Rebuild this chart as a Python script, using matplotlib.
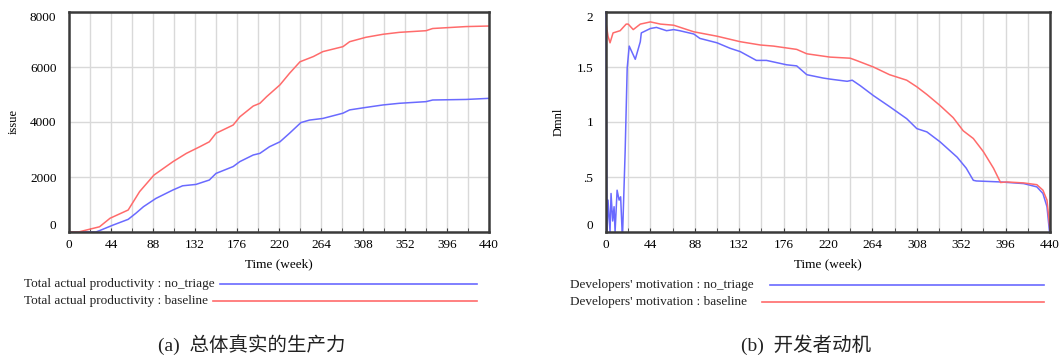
import numpy as np
import matplotlib
matplotlib.use("Agg")
import matplotlib.pyplot as plt
from matplotlib.lines import Line2D

# ---- data: (a) Total actual productivity ----
t_prod_base = [0, 10, 18, 32, 43, 62, 74, 89, 109, 123, 137, 147, 154, 172, 179, 193, 200, 207, 221, 231,
               242, 256, 266, 287, 294, 311, 329, 346, 374, 381, 416, 440]
prod_base = [0, 0, 70, 190, 500, 800, 1470, 2070, 2560, 2860, 3100, 3280, 3590, 3890, 4190, 4580, 4680, 4920,
             5350, 5770, 6190, 6380, 6560, 6740, 6920, 7080, 7190, 7260, 7320, 7400, 7470, 7490]
t_prod_notri = [0, 20, 28, 32, 46, 62, 70, 78, 91, 109, 119, 133, 147, 154, 172, 179, 193, 200, 210, 221, 231,
                243, 252, 266, 287, 294, 311, 329, 346, 374, 381, 416, 440]
prod_notri = [0, 0, 0, 50, 250, 460, 680, 920, 1220, 1530, 1680, 1730, 1890, 2130, 2380, 2560, 2800, 2860, 3100,
              3280, 3590, 3980, 4070, 4130, 4320, 4440, 4530, 4620, 4680, 4740, 4800, 4820, 4860]

# ---- data: (b) Developers' motivation ----
t_mot_base = [0, 2, 4, 7, 14, 20, 22, 27, 34, 44, 54, 67, 87, 110, 133, 153, 166, 189, 199, 222, 242, 248,
              265, 281, 298, 308, 318, 331, 344, 354, 364, 374, 384, 391, 397, 414, 427, 433, 437, 440]
mot_base = [1.9, 1.78, 1.72, 1.81, 1.83, 1.89, 1.89, 1.84, 1.89, 1.91, 1.89, 1.88, 1.82, 1.78, 1.73, 1.70,
            1.69, 1.66, 1.62, 1.59, 1.58, 1.56, 1.50, 1.43, 1.38, 1.32, 1.25, 1.15, 1.04, 0.92, 0.85, 0.73,
            0.58, 0.45, 0.455, 0.446, 0.43, 0.38, 0.29, 0.02]
t_mot_notri = [0, 1, 2, 4, 5, 6.6, 8, 9, 11, 13, 14.5, 16, 16.5, 19, 21, 23, 29, 34, 35, 44, 50, 60, 67, 73,
               87, 93, 110, 123, 133, 149, 159, 179, 189, 199, 215, 222, 239, 244, 252, 265, 281, 298, 308,
               318, 331, 348, 357, 364, 367, 391, 414, 427, 433, 437, 439.5, 440]
mot_notri = [2.0, 0.0, 0.29, 0.0, 0.35, 0.1, 0.23, 0.0, 0.38, 0.29, 0.32, 0.0, 0.0, 0.74, 1.49, 1.69, 1.57,
             1.73, 1.81, 1.85, 1.86, 1.83, 1.84, 1.83, 1.80, 1.76, 1.72, 1.67, 1.64, 1.56, 1.56, 1.52, 1.51,
             1.43, 1.40, 1.39, 1.37, 1.38, 1.33, 1.24, 1.14, 1.03, 0.94, 0.91, 0.82, 0.68, 0.58, 0.47, 0.464,
             0.455, 0.44, 0.41, 0.35, 0.23, 0.0, 0.0]

x_ticks = [0, 44, 88, 132, 176, 220, 264, 308, 352, 396, 440]
prod_yticks = [0, 2000, 4000, 6000, 8000]
prod_ylabels = ["0", "2000", "4000", "6000", "8000"]
mot_yticks = [0, 0.5, 1, 1.5, 2]
mot_ylabels = ["0", ".5", "1", "1.5", "2"]

BLUE = "#6a6aff"
RED = "#ff6b6b"
FRAME = "#3a3a3a"
GRID = "#d9d9d9"
SERIF = ["Liberation Serif", "DejaVu Serif"]
CJK = ["Liberation Serif", "Noto Sans CJK SC"]

plt.rcParams["font.family"] = SERIF

W, H = 1064, 358
fig = plt.figure(figsize=(W / 100, H / 100), dpi=100)
fig.patch.set_facecolor("white")


def fx(px):
    return px / W


def fy(py):
    return 1 - py / H


def setup(ax, ylim, yticks, ylabels, ylabel, ylabel_x):
    ax.set_xlim(0, 440)
    ax.set_ylim(*ylim)
    ax.set_xticks(x_ticks)
    ax.set_xticks(np.arange(0, 441, 22), minor=True)
    ax.set_yticks(yticks)
    ax.set_yticklabels(ylabels)
    ax.grid(True, which="both", axis="x", color=GRID, lw=1.0)
    ax.grid(True, which="major", axis="y", color=GRID, lw=1.0)
    ax.set_axisbelow(True)
    for s in ax.spines.values():
        s.set_color(FRAME)
        s.set_linewidth(1.8)
    ax.tick_params(axis="x", which="both", direction="in", length=3, color=FRAME, labelsize=9.5, pad=5)
    ax.tick_params(axis="y", length=0, labelsize=9.5, pad=9)
    ylabs = ax.get_yticklabels()
    ylabs[0].set_va("bottom")
    ylabs[-1].set_va("top")
    ax.set_xlabel("Time (week)", fontsize=9.5, labelpad=5)
    ax.set_ylabel(ylabel, fontsize=9)
    ax.yaxis.set_label_coords(ylabel_x, 0.5)


# (a)
ax1 = fig.add_axes([fx(69), fy(232), fx(420), 220 / H])
ax1.plot(t_prod_notri, prod_notri, color=BLUE, lw=1.1)
ax1.plot(t_prod_base, prod_base, color=RED, lw=1.1)
setup(ax1, (0, 8000), prod_yticks, prod_ylabels, "issue", -0.118)

# (b)
ax2 = fig.add_axes([fx(606), fy(232), fx(444), 220 / H])
ax2.plot(t_mot_notri, mot_notri, color=BLUE, lw=1.1, clip_on=False)
ax2.plot(t_mot_base, mot_base, color=RED, lw=1.1)
setup(ax2, (0, 2), mot_yticks, mot_ylabels, "Dmnl", -0.092)

# legends (Vensim style)
leg = [
    ("Total actual productivity : no_triage", 24, 284, 220, 477, BLUE),
    ("Total actual productivity : baseline", 24, 301, 213, 477, RED),
    ("Developers' motivation : no_triage", 570, 285, 770, 1044, BLUE),
    ("Developers' motivation : baseline", 570, 302, 762, 1044, RED),
]
for txt, tx, ty, x0, x1, c in leg:
    fig.text(fx(tx), fy(ty), txt, fontsize=9.5, va="center", ha="left", color="#222222")
    fig.add_artist(Line2D([fx(x0), fx(x1)], [fy(ty), fy(ty)], color=c, lw=1.2))

fig.text(fx(252), fy(345), "(a)  总体真实的生产力", fontsize=14, ha="center", va="center",
         family=CJK, color="#222222")
fig.text(fx(806), fy(345), "(b)  开发者动机", fontsize=14, ha="center", va="center",
         family=CJK, color="#222222")

fig.savefig("out.png", dpi=100, facecolor="white")
